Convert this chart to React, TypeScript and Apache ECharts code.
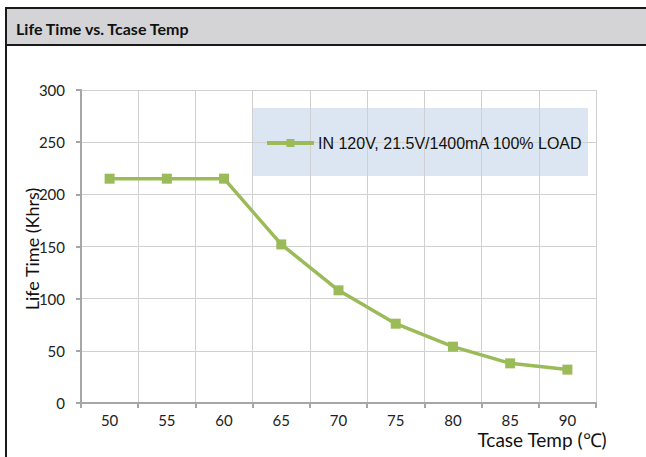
import React, { useEffect, useRef } from "react";
import * as echarts from "echarts";

const temps = ["50", "55", "60", "65", "70", "75", "80", "85", "90"];
const lifeKhrs = [215, 215, 215, 152, 108, 76, 54, 38, 32];
const seriesName = "IN 120V, 21.5V/1400mA 100% LOAD";
const chartTitle = "Life Time vs. Tcase Temp";
const yTitle = "Life Time (Khrs)";
const xTitle = "Tcase Temp (℃)";

export default function App() {
  const ref = useRef<HTMLDivElement>(null);
  useEffect(() => {
    if (!ref.current) return;
    const chart = echarts.init(ref.current, undefined, { renderer: "svg" });
    chart.setOption({
      animation: false,
      backgroundColor: "#ffffff",
      grid: { left: 81, right: 50, top: 90, bottom: 54, containLabel: false },
      xAxis: {
        type: "category",
        data: temps,
        boundaryGap: true,
        axisLine: { show: true, lineStyle: { color: "#a6a6a6", width: 2 } },
        axisTick: { show: true, length: 5, lineStyle: { color: "#a6a6a6", width: 2 } },
        axisLabel: { color: "#222", fontSize: 15, fontFamily: "Lato", margin: 9 },
        splitLine: { show: true, lineStyle: { color: "#d0d0d0", width: 1 } },
      },
      yAxis: {
        type: "value",
        min: 0,
        max: 300,
        interval: 50,
        axisLine: { show: true, lineStyle: { color: "#a6a6a6", width: 2 } },
        axisTick: { show: true, length: 5, lineStyle: { color: "#a6a6a6", width: 2 } },
        axisLabel: { color: "#222", fontSize: 15, fontFamily: "Lato", margin: 16 },
        splitLine: { show: true, lineStyle: { color: "#d0d0d0", width: 1 } },
      },
      legend: {
        show: true,
        left: 265,
        top: 135,
        padding: 0,
        itemWidth: 47,
        itemHeight: 10,
        itemGap: 4,
        lineStyle: { width: 4, color: "#9bbb59" },
        itemStyle: { color: "#9bbb59" },
        textStyle: { color: "#111", fontSize: 16, fontFamily: "Liberation Sans", padding: [0, 0, 0, -1] },
        data: [seriesName],
      },
      graphic: [
        {
          type: "rect",
          z: -1,
          shape: { x: 252, y: 108, width: 336, height: 68 },
          style: { fill: "#dce6f2" },
        },
        {
          type: "rect",
          shape: { x: 6, y: 8, width: 645, height: 37 },
          style: { fill: "#d4d4d6", stroke: "#1a1a1a", lineWidth: 2 },
        },
        {
          type: "line",
          shape: { x1: 6, y1: 8, x2: 6, y2: 460 },
          style: { stroke: "#1a1a1a", lineWidth: 2 },
        },
        {
          type: "text",
          x: 16,
          y: 28,
          style: {
            text: chartTitle,
            fill: "#111",
            font: "bold 16px Lato",
            verticalAlign: "middle",
            align: "left",
          },
        },
        {
          type: "text",
          x: 32,
          y: 249,
          rotation: Math.PI / 2,
          style: {
            text: yTitle,
            fill: "#111",
            font: "18px Lato",
            verticalAlign: "middle",
            align: "center",
          },
        },
        {
          type: "text",
          x: 542,
          y: 439,
          style: {
            text: xTitle,
            fill: "#111",
            font: "19px Lato",
            verticalAlign: "middle",
            align: "center",
          },
        },
      ],
      series: [
        {
          name: seriesName,
          type: "line",
          data: lifeKhrs,
          symbol: "rect",
          symbolSize: 10,
          lineStyle: { color: "#9bbb59", width: 3.5 },
          itemStyle: { color: "#9bbb59" },
        },
      ],
    });
    return () => chart.dispose();
  }, []);
  return (
    <div
      ref={ref}
      style={{ position: "absolute", left: 0, top: 0, width: 646, height: 457 }}
    />
  );
}
